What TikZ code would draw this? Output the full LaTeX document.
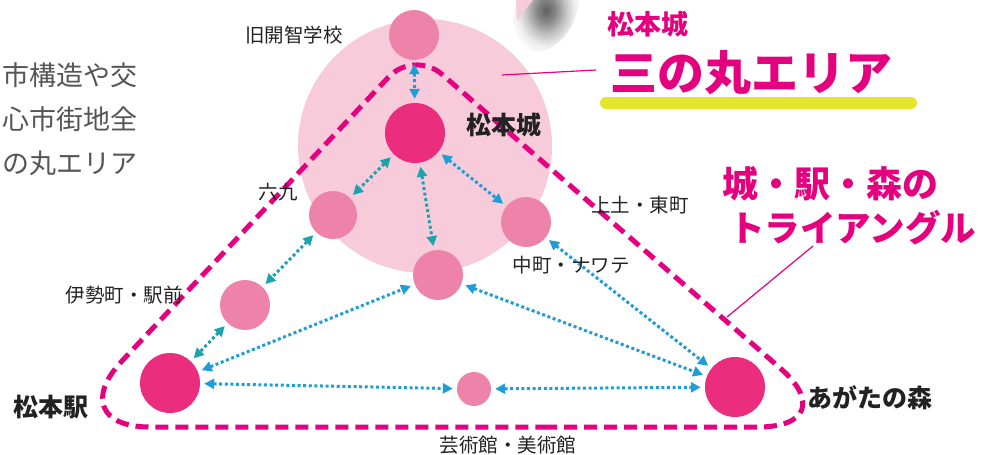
\documentclass[tikz,border=0pt]{standalone}
\usepackage{fontspec}
\setmainfont{Noto Sans CJK JP}
\usetikzlibrary{arrows.meta}
\definecolor{mag}{HTML}{E5007F}
\definecolor{dpink}{HTML}{EB2D7E}
\definecolor{mpink}{HTML}{EE83AA}
\definecolor{lpink}{HTML}{F8CBDB}
\definecolor{teal1}{HTML}{1BA3AE}
\definecolor{blue1}{HTML}{1E9DD8}
\definecolor{ylw}{HTML}{E5E52C}
\definecolor{txt}{HTML}{222222}
\definecolor{para}{HTML}{555555}
\pgfdeclareradialshading{blobshade}{\pgfpoint{0bp}{0bp}}{color(0bp)=(black!62); color(6bp)=(black!48); color(13bp)=(black!24); color(19bp)=(black!7); color(25bp)=(white); color(50bp)=(white)}
\begin{document}
\begin{tikzpicture}[x=1pt,y=-1pt,
  stn/.style={circle, inner sep=0pt, minimum size=#1, fill=mpink},
  bigstn/.style={circle, inner sep=0pt, minimum size=60pt, fill=dpink},
  lbl/.style={inner sep=0pt, text=txt, font=\fontsize{19.5}{20}\selectfont},
  blbl/.style={inner sep=0pt, text=txt, font=\fontsize{25}{26}\selectfont\bfseries},
  paratext/.style={inner sep=0pt, anchor=east, text=para, font=\fontsize{27}{27}\selectfont},
  headtext/.style={inner sep=0pt, text=mag, font=\fontsize{#1}{#1}\selectfont\bfseries},
  link/.style={draw=#1, line width=3pt, dash pattern=on 3pt off 2.6pt,
    >={Triangle[length=10pt,width=10pt]}, <->, shorten <=4pt, shorten >=4pt},
  tri/.style={draw=mag, line width=5pt, dash pattern=on 13pt off 7pt},
  leader/.style={draw=mag, line width=1.2pt}
]
\useasboundingbox (0,0) rectangle (983,455);

% decorative shadow and pink corner at top
\shade[shading=blobshade, rotate around={-25:(546,10)}] (546,10) ellipse (30 and 44);
\fill[lpink] (516,0) -- (533,0) -- (517,21) -- cycle;

% left paragraph (cut off)
\node[paratext] (p1) at (138,75) {市構造や交};
\node[paratext] (p2) at (138,119) {心市街地全};
\node[paratext] (p3) at (138,163) {の丸エリア};

% san-no-maru area
\node[circle, fill=lpink, minimum size=254pt, inner sep=0pt] (area) at (425,146) {};

% triangle
\coordinate (ta) at (414,50);
\coordinate (tl) at (60,427);
\coordinate (tr) at (848,427);
\coordinate (tb) at (454,427);
\draw[tri] (tb) [rounded corners=90pt] -- (tr) [rounded corners=37pt] -- (ta) [rounded corners=90pt] -- (tl) -- cycle;

% stations
\node[stn=50pt] (kyu) at (414,35) {};
\node[bigstn] (castle) at (415,133) {};
\node[stn=48pt] (roku) at (333,215) {};
\node[stn=50pt] (naka) at (438,275) {};
\node[stn=50pt] (agetsuchi) at (526,222) {};
\node[stn=50pt] (ise) at (245,305) {};
\node[bigstn] (station) at (170,383) {};
\node[stn=34pt] (art) at (474,389) {};
\node[bigstn] (agata) at (735,387) {};

% links
\draw[link=blue1] (kyu) -- (castle);
\draw[link=teal1] (castle) -- (roku);
\draw[link=teal1] (castle) -- (naka);
\draw[link=blue1] (castle) -- (agetsuchi);
\draw[link=teal1] (roku) -- (ise);
\draw[link=teal1] (ise) -- (station);
\draw[link=blue1] (station) -- (naka);
\draw[link=blue1] (station) -- (art);
\draw[link=blue1] (art) -- (agata);
\draw[link=blue1] (naka) -- (agata);
\draw[link=blue1] (agetsuchi) -- (agata);

% labels
\node[lbl] (lkyu) at (294,35) {旧開智学校};
\node[blbl] (lcastle) at (504,125) {松本城};
\node[lbl] (lroku) at (278,192) {六九};
\node[lbl] (lage) at (640,205) {上土・東町};
\node[lbl] (lnaka) at (571,265) {中町・ナワテ};
\node[lbl] (lise) at (124,295) {伊勢町・駅前};
\node[blbl] (lstation) at (51,407) {松本駅};
\node[blbl] (lagata) at (870,398) {あがたの森};
\node[lbl] (lart) at (508,445) {芸術館・美術館};

% headings
\node[headtext=27] (h1) at (648,24) {松本城};
\node[headtext=47] (h2) at (751,73) {三の丸エリア};
\coordinate (ul1) at (606,103);
\coordinate (ul2) at (911,103);
\draw[ylw, line width=12pt, line cap=round] (ul1) -- (ul2);
\coordinate (lead1a) at (502,75);
\coordinate (lead1b) at (596,70);
\draw[leader] (lead1a) -- (lead1b);

\node[headtext=36, anchor=west] (h3) at (722,184) {城・駅・森の};
\node[headtext=35.5, anchor=west] (h4) at (729,228) {トライアングル};
\coordinate (lead2a) at (813,246);
\coordinate (lead2b) at (727,317);
\draw[leader] (lead2a) -- (lead2b);
\end{tikzpicture}
\end{document}
